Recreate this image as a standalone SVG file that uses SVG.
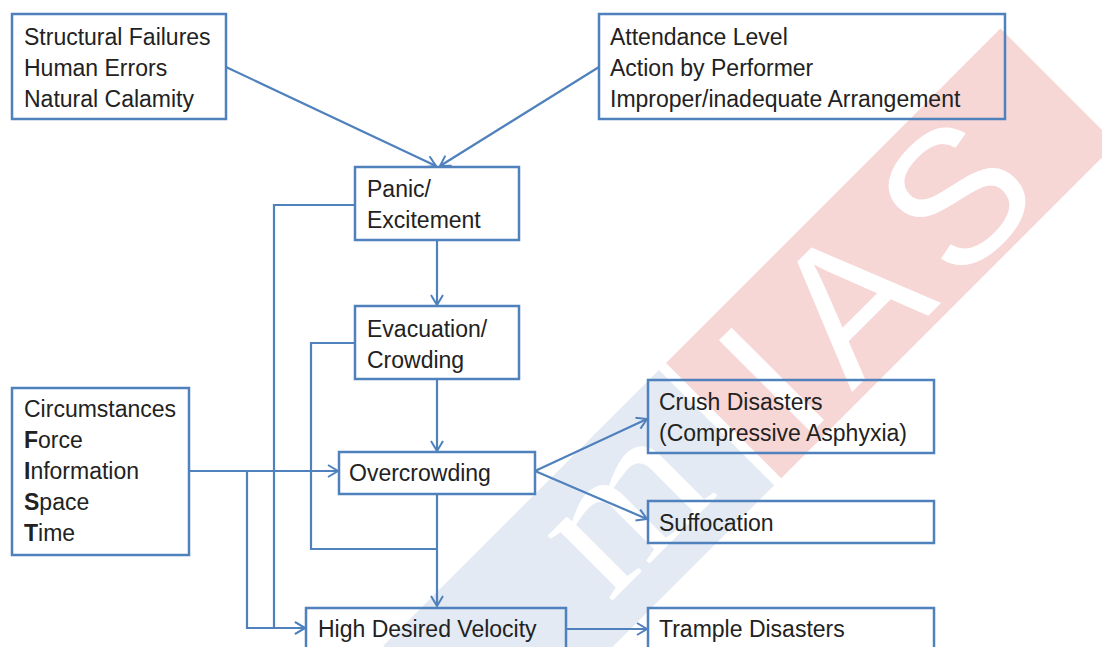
<svg xmlns="http://www.w3.org/2000/svg" width="1102" height="647" viewBox="0 0 1102 647">
<style>
.box{fill:none;stroke:#4f81bd;stroke-width:2.5}
.t{font-family:"Liberation Sans",Arial,sans-serif;font-size:23px;fill:#222}
.b{font-weight:bold}
.ln{fill:none;stroke:#4f81bd;stroke-width:2.2}
.wm{fill:#ffffff}
</style>
<defs>
<marker id="arr" markerUnits="userSpaceOnUse" markerWidth="14" markerHeight="14" refX="11" refY="7" orient="auto">
<path d="M1,1 L11,7 L1,13" fill="none" stroke="#4f81bd" stroke-width="2"/>
</marker>
</defs>
<rect width="1102" height="647" fill="#ffffff"/>
<g id="watermark">
<g transform="translate(666,363) rotate(-45)">
<rect x="0" y="0" width="473" height="163" fill="#f7d6d6"/>
<rect x="-400" y="0" width="390" height="163" fill="#e3eaf3"/>
<text class="wm" x="36" y="152" font-size="190" letter-spacing="22" font-family="Liberation Sans,Arial,sans-serif">IAS</text>
<text class="wm" x="-210" y="130" font-size="200" font-family="Liberation Serif,serif">m</text>
</g>
</g>
<g id="connectors">
<line class="ln" x1="226" y1="67" x2="436" y2="166" marker-end="url(#arr)"/>
<line class="ln" x1="599" y1="67" x2="440" y2="166" marker-end="url(#arr)"/>
<line class="ln" x1="437" y1="240" x2="437" y2="305" marker-end="url(#arr)"/>
<polyline class="ln" points="355,205 274,205 274,628 305,628" marker-end="url(#arr)"/>
<polyline class="ln" points="355,343 311,343 311,549 437,549"/>
<line class="ln" x1="437" y1="379" x2="437" y2="451" marker-end="url(#arr)"/>
<line class="ln" x1="437" y1="494" x2="437" y2="606" marker-end="url(#arr)"/>
<line class="ln" x1="189" y1="471" x2="338" y2="471" marker-end="url(#arr)"/>
<polyline class="ln" points="247,471 247,628 305,628" marker-end="url(#arr)"/>
<line class="ln" x1="535" y1="471" x2="647" y2="419" marker-end="url(#arr)"/>
<line class="ln" x1="535" y1="471" x2="647" y2="519" marker-end="url(#arr)"/>
<line class="ln" x1="566" y1="629" x2="647" y2="629" marker-end="url(#arr)"/>
</g>
<g id="causes1">
<rect class="box" x="12" y="14" width="214" height="105"/>
<text class="t" x="24" y="45">Structural Failures</text>
<text class="t" x="24" y="76">Human Errors</text>
<text class="t" x="24" y="107">Natural Calamity</text>
</g>
<g id="causes2">
<rect class="box" x="599" y="14" width="406" height="105"/>
<text class="t" x="610" y="45">Attendance Level</text>
<text class="t" x="610" y="76">Action by Performer</text>
<text class="t" x="610" y="107">Improper/inadequate Arrangement</text>
</g>
<g id="panic">
<rect class="box" x="355" y="167" width="164" height="73"/>
<text class="t" x="367" y="197">Panic/</text>
<text class="t" x="367" y="228">Excitement</text>
</g>
<g id="evacuation">
<rect class="box" x="355" y="306" width="164" height="73"/>
<text class="t" x="367" y="337">Evacuation/</text>
<text class="t" x="367" y="368">Crowding</text>
</g>
<g id="overcrowding">
<rect class="box" x="339" y="452" width="196" height="42"/>
<text class="t" x="349" y="481">Overcrowding</text>
</g>
<g id="factors">
<rect class="box" x="12" y="388" width="177" height="167"/>
<text class="t" x="24" y="417">Circumstances</text>
<text class="t" x="24" y="448"><tspan class="b">F</tspan>orce</text>
<text class="t" x="24" y="479"><tspan class="b">I</tspan>nformation</text>
<text class="t" x="24" y="510"><tspan class="b">S</tspan>pace</text>
<text class="t" x="24" y="541"><tspan class="b">T</tspan>ime</text>
</g>
<g id="crush">
<rect class="box" x="648" y="380" width="286" height="73"/>
<text class="t" x="659" y="410">Crush Disasters</text>
<text class="t" x="659" y="441">(Compressive Asphyxia)</text>
</g>
<g id="suffocation">
<rect class="box" x="648" y="501" width="286" height="42"/>
<text class="t" x="659" y="531">Suffocation</text>
</g>
<g id="velocity">
<rect class="box" x="306" y="608" width="260" height="50"/>
<text class="t" x="318" y="637">High Desired Velocity</text>
</g>
<g id="trample">
<rect class="box" x="648" y="608" width="286" height="50"/>
<text class="t" x="659" y="637">Trample Disasters</text>
</g>
</svg>
